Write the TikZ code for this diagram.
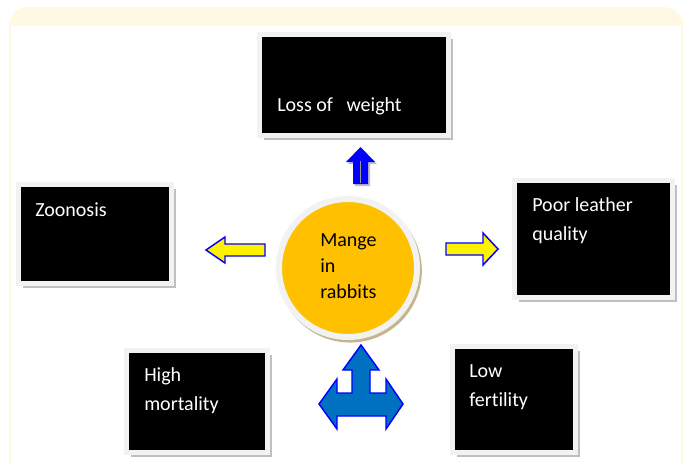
\documentclass[tikz,border=0pt]{standalone}
\usepackage{fontspec}
\setmainfont{Carlito}[Ligatures=NoCommon]
\usetikzlibrary{positioning, fit, shadows}

\definecolor{panelyellow}{RGB}{255,249,227}
\definecolor{framegray}{RGB}{242,242,242}
\definecolor{shadegray}{RGB}{191,191,191}
\definecolor{mangeorange}{RGB}{255,192,0}
\definecolor{ringshade}{RGB}{196,182,140}
\definecolor{arrowblue}{RGB}{0,0,255}
\definecolor{forkblue}{RGB}{0,112,192}

\begin{document}
\begin{tikzpicture}[x=0.75pt,y=0.75pt,yscale=-1,xscale=1,
    effectbox/.style={rectangle, inner sep=0, fill=black, draw=framegray, line width=3.75pt,
        drop shadow={shadow xshift=3.6pt, shadow yshift=-3.6pt, fill=shadegray, opacity=1}},
    boxtext/.style={anchor=north west, inner sep=0, text=white, align=left,
        font=\fontsize{15}{21.75}\selectfont},
    sidearrow/.style={fill=yellow, draw=arrowblue, line width=1.1pt},
    forkarrow/.style={fill=forkblue, draw=arrowblue, line width=1.1pt}]
    \useasboundingbox (0,0) rectangle (688,462);
    \clip (0,0) rectangle (688,462);

    %Shape: Panel
    \fill[panelyellow, rounded corners=14pt] (9,7) rectangle (683,500);
    \fill[white] (11,26) rectangle (681,470);

    %Shape: Rectangle [loss]
    \node[effectbox, fit={(259.5,34.5) (448.5,135.5)}] (loss) {};
    %Shape: Rectangle [zoo]
    \node[effectbox, fit={(18.5,184.5) (171.5,283.5)}] (zoo) {};
    %Shape: Rectangle [leather]
    \node[effectbox, fit={(514.5,180.5) (672.5,297.5)}] (leather) {};
    %Shape: Rectangle [mortality]
    \node[effectbox, fit={(126.5,350.5) (267.5,452.5)}] (mortality) {};
    %Shape: Rectangle [fertility]
    \node[effectbox, fit={(452.5,346.5) (575.5,452.5)}] (fertility) {};

    %Shape: Circle [mange]
    \node[circle, minimum size=103.5pt, inner sep=0, fill=mangeorange, draw=framegray, line width=4.5pt,
        drop shadow={shadow xshift=1.5pt, shadow yshift=-2pt, shadow scale=1.04, fill=ringshade, opacity=1}]
        (mange) at (348,268) {};

    %Shape: Up Arrow
    \fill[shadegray] (362,149) -- (377,164) -- (370,164) -- (370,186) -- (355,186) -- (355,164) -- (348,164) -- cycle;
    \fill[arrowblue] (360.5,147) -- (375,162) -- (368,162) -- (368,184) -- (353,184) -- (353,162) -- (346,162) -- cycle;
    \draw[gray!80, line width=1.1pt] (360.5,161) -- (360.5,183);
    %Shape: Left Arrow
    \draw[sidearrow] (206,250) -- (225,237) -- (225,244) -- (265,244) -- (265,256) -- (225,256) -- (225,263) -- cycle;
    %Shape: Right Arrow
    \draw[sidearrow] (446,243) -- (483,243) -- (483,233) -- (498,249) -- (483,265) -- (483,255) -- (446,255) -- cycle;
    %Shape: Fork Arrow
    \draw[forkarrow] (361,345) -- (379,370) -- (370,370) -- (370,393) -- (386,393) -- (386,379) -- (403,404)
        -- (386,429) -- (386,416) -- (337,416) -- (337,429) -- (319,404) -- (337,379) -- (337,393)
        -- (352,393) -- (352,370) -- (343,370) -- cycle;

    % Text Node
    \node[boxtext] (losstxt) at (277,97) {Loss of \ \ weight};
    % Text Node
    \node[boxtext] (zootxt) at (35,202) {Zoonosis};
    % Text Node
    \node[boxtext] (leathertxt) at (532,197) {Poor leather\\quality};
    % Text Node
    \node[boxtext] (mortalitytxt) at (144,367) {High\\mortality};
    % Text Node
    \node[boxtext] (fertilitytxt) at (469,364) {Low\\fertility};
    % Text Node
    \node[boxtext, text=black, font=\fontsize{15}{19.5}\selectfont] (mangetxt) at (320,233) {Mange\\in\\rabbits};
\end{tikzpicture}
\end{document}
